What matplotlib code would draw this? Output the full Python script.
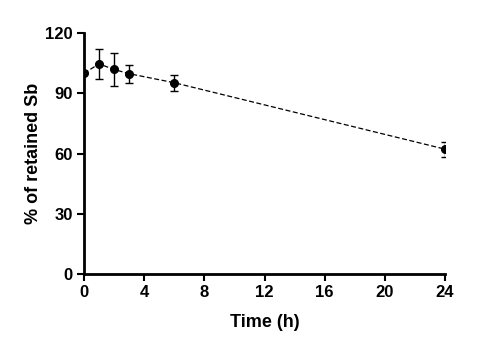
import matplotlib
matplotlib.use("Agg")
import matplotlib.pyplot as plt

time_h = [0, 1, 2, 3, 6, 24]
retained = [100, 104.7, 101.9, 99.8, 95.3, 62.2]
err = [0, 7.6, 8.0, 4.5, 4.0, 3.8]
xticks = [0, 4, 8, 12, 16, 20, 24]
yticks = [0, 30, 60, 90, 120]

plt.rcParams['font.family'] = ['Liberation Sans', 'DejaVu Sans']
plt.rcParams['font.weight'] = 'bold'

fig = plt.figure(figsize=(5, 3.49), dpi=100)
ax = fig.add_axes([0.168, 0.215, 0.722, 0.69])

ax.errorbar(time_h, retained, yerr=err, fmt='o', color='black', ms=5.5,
            ecolor='black', elinewidth=1, capsize=3, capthick=1, zorder=3)
ax.plot(time_h, retained, linestyle=(0, (4, 2)), color='black', lw=0.9, zorder=2)

ax.set_xlim(0, 24)
ax.set_ylim(0, 120)
ax.set_xticks(xticks)
ax.set_yticks(yticks)
for s in ['top', 'right']:
    ax.spines[s].set_visible(False)
for s in ['left', 'bottom']:
    ax.spines[s].set_linewidth(2)
ax.tick_params(width=1.5, length=5, labelsize=12, direction='out', pad=3)
for lab in ax.get_xticklabels() + ax.get_yticklabels():
    lab.set_fontweight('bold')
ax.set_xlabel('Time (h)', fontsize=13, fontweight='bold', labelpad=10)
ax.set_ylabel('% of retained Sb', fontsize=13, fontweight='bold', labelpad=2)
for s in ax.spines.values():
    s.set_clip_on(False)

fig.savefig('out.png', dpi=100)
